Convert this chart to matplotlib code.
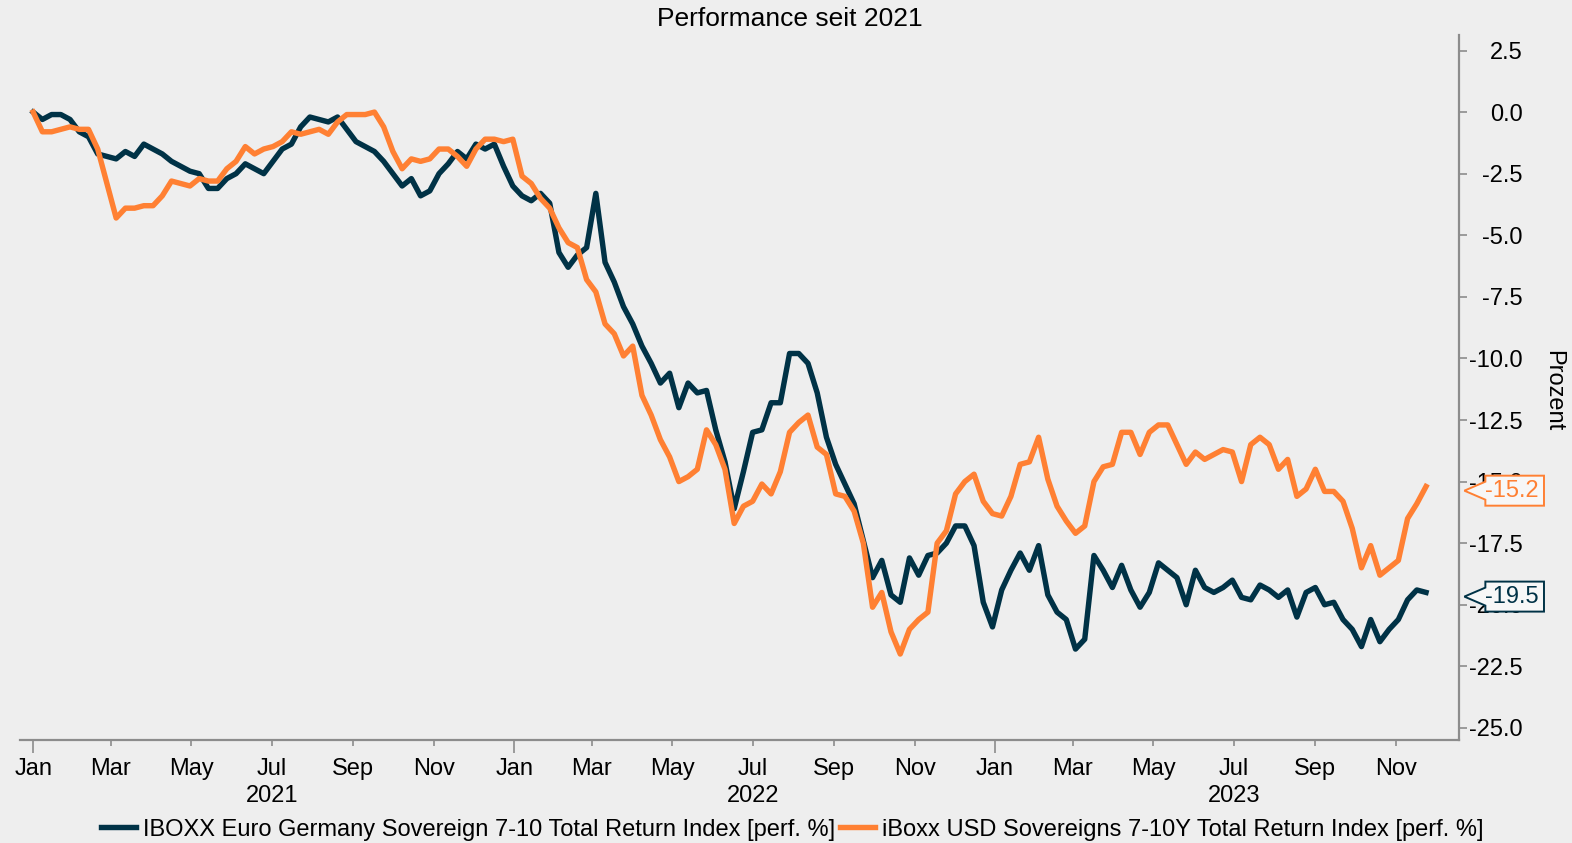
import numpy as np
import pandas as pd
import matplotlib
matplotlib.use("Agg")
import matplotlib.pyplot as plt
import matplotlib.dates as mdates
from matplotlib.path import Path
from matplotlib.ticker import FuncFormatter

plt.rcParams['font.family'] = ['Liberation Sans', 'DejaVu Sans']

# weekly values (perf. % since 01.01.2021)
dates = pd.date_range('2021-01-01', periods=152, freq='7D')

euro_de = [
    0.0, -0.3, -0.1, -0.1, -0.3, -0.8, -1.0, -1.7, -1.8, -1.9,
    -1.6, -1.8, -1.3, -1.5, -1.7, -2.0, -2.2, -2.4, -2.5, -3.1,
    -3.1, -2.7, -2.5, -2.1, -2.3, -2.5, -2.0, -1.5, -1.3, -0.6,
    -0.2, -0.3, -0.4, -0.2, -0.7, -1.2, -1.4, -1.6, -2.0, -2.5,
    -3.0, -2.7, -3.4, -3.2, -2.5, -2.1, -1.6, -1.9, -1.3, -1.5,
    -1.3, -2.2, -3.0, -3.4, -3.6, -3.3, -3.7, -5.7, -6.3, -5.8,
    -5.5, -3.3, -6.1, -6.9, -7.9, -8.6, -9.5, -10.2, -11.0, -10.6,
    -12.0, -11.0, -11.4, -11.3, -12.9, -14.2, -16.1, -14.6, -13.0, -12.9,
    -11.8, -11.8, -9.8, -9.8, -10.2, -11.4, -13.2, -14.3, -15.1, -15.9,
    -17.4, -18.9, -18.2, -19.6, -19.9, -18.1, -18.8, -18.0, -17.9, -17.5,
    -16.8, -16.8, -17.6, -19.9, -20.9, -19.4, -18.6, -17.9, -18.6, -17.6,
    -19.6, -20.3, -20.6, -21.8, -21.4, -18.0, -18.6, -19.3, -18.4, -19.4,
    -20.1, -19.5, -18.3, -18.6, -18.9, -20.0, -18.6, -19.3, -19.5, -19.3,
    -19.0, -19.7, -19.8, -19.2, -19.4, -19.7, -19.4, -20.5, -19.5, -19.3,
    -20.0, -19.9, -20.6, -21.0, -21.7, -20.6, -21.5, -21.0, -20.6, -19.8,
    -19.4, -19.5,
]

usd_sov = [
    0.0, -0.8, -0.8, -0.7, -0.6, -0.7, -0.7, -1.5, -2.9, -4.3,
    -3.9, -3.9, -3.8, -3.8, -3.4, -2.8, -2.9, -3.0, -2.7, -2.8,
    -2.8, -2.3, -2.0, -1.4, -1.7, -1.5, -1.4, -1.2, -0.8, -0.9,
    -0.8, -0.7, -0.9, -0.4, -0.1, -0.1, -0.1, 0.0, -0.6, -1.6,
    -2.3, -1.9, -2.0, -1.9, -1.5, -1.5, -1.8, -2.2, -1.5, -1.1,
    -1.1, -1.2, -1.1, -2.6, -2.9, -3.5, -3.9, -4.7, -5.3, -5.5,
    -6.8, -7.3, -8.6, -9.0, -9.9, -9.5, -11.5, -12.3, -13.3, -14.0,
    -15.0, -14.8, -14.5, -12.9, -13.5, -14.5, -16.7, -16.0, -15.8, -15.1,
    -15.5, -14.6, -13.0, -12.6, -12.3, -13.6, -13.9, -15.5, -15.6, -16.2,
    -17.5, -20.1, -19.5, -21.1, -22.0, -21.0, -20.6, -20.3, -17.5, -17.0,
    -15.5, -15.0, -14.7, -15.8, -16.3, -16.4, -15.6, -14.3, -14.2, -13.2,
    -14.9, -16.0, -16.6, -17.1, -16.8, -15.0, -14.4, -14.3, -13.0, -13.0,
    -13.9, -13.0, -12.7, -12.7, -13.5, -14.3, -13.8, -14.1, -13.9, -13.7,
    -13.8, -15.0, -13.5, -13.2, -13.5, -14.5, -14.1, -15.6, -15.3, -14.5,
    -15.4, -15.4, -15.8, -16.9, -18.5, -17.6, -18.8, -18.5, -18.2, -16.5,
    -15.9, -15.2,
]

series_names = [
    'IBOXX Euro Germany Sovereign 7-10 Total Return Index [perf. %]',
    'iBoxx USD Sovereigns 7-10Y Total Return Index [perf. %]',
]
series_colors = ['#003246', '#ff8033']
y_ticks = np.arange(-25.0, 2.6, 2.5)

bg = '#eeeeee'
grey = '#8c8c8c'
fs = 17

fig = plt.figure(figsize=(15.72, 8.43), dpi=100, facecolor=bg)
ax = fig.add_axes([0.0127, 0.1222, 0.9154, 0.8363], facecolor=bg)

for vals, name, col in zip([euro_de, usd_sov], series_names, series_colors):
    ax.plot(dates, vals, color=col, lw=3.9, label=name, solid_joinstyle='round')

ax.set_xlim(pd.Timestamp('2020-12-22'), pd.Timestamp('2023-12-19'))
ax.set_ylim(-25.49, 3.13)

for s in ['left', 'top']:
    ax.spines[s].set_visible(False)
for s in ['right', 'bottom']:
    ax.spines[s].set_color(grey)
    ax.spines[s].set_linewidth(1.6)

# y axis on the right
ax.yaxis.tick_right()
ax.set_yticks(y_ticks)
ax.yaxis.set_major_formatter(FuncFormatter(lambda v, p: f'{v:.1f}'))
ax.tick_params(axis='y', length=6, width=1.2, color=grey, labelsize=fs, pad=40)
for lab in ax.get_yticklabels():
    lab.set_horizontalalignment('right')

# x axis: Jan ticks long, other months short
ax.xaxis.set_major_locator(mdates.YearLocator())
ax.xaxis.set_major_formatter(mdates.DateFormatter('%b'))
ax.xaxis.set_minor_locator(mdates.MonthLocator(bymonth=[3, 5, 7, 9, 11]))


def minor_fmt(v, pos):
    d = mdates.num2date(v)
    if d.month == 7:
        return d.strftime('%b') + '\n' + str(d.year)
    return d.strftime('%b')


ax.xaxis.set_minor_formatter(FuncFormatter(minor_fmt))
ax.tick_params(axis='x', which='major', length=9, width=1.2, color=grey, labelsize=fs, pad=4)
ax.tick_params(axis='x', which='minor', length=4.5, width=1.2, color=grey, labelsize=fs, pad=8.5)
for lab in ax.get_xticklabels(which='minor'):
    lab.set_linespacing(1.3)

fig.text(0.5025, 0.978, 'Performance seit 2021', ha='center', va='center', fontsize=19)
fig.text(0.988, 0.537, 'Prozent', rotation=270, ha='center', va='center', fontsize=fs)


def callout(x0, y0, width, height, mutation_size):
    # box with a "<" pointer on its left side
    tip = 21
    y0 -= 4
    height += 8
    width += 5
    ym = y0 + height / 2
    verts = [(x0, y0), (x0 + width, y0), (x0 + width, y0 + height), (x0, y0 + height),
             (x0, ym + 9), (x0 - tip, ym), (x0, ym - 9), (x0, y0)]
    codes = [Path.MOVETO] + [Path.LINETO] * 6 + [Path.CLOSEPOLY]
    return Path(verts, codes)


for vals, col in zip([euro_de, usd_sov], series_colors):
    last = vals[-1]
    ax.annotate(f'{last:.1f}', xy=(1, last), xycoords=('axes fraction', 'data'),
                xytext=(19, -3), textcoords='offset points', ha='left', va='center',
                fontsize=fs, color=col, annotation_clip=False, zorder=5,
                bbox=dict(boxstyle=callout, fc='#f7f7f7', ec=col, lw=1.4, pad=0.18))

fig.legend(loc='center', bbox_to_anchor=(0.504, 0.016), ncol=2, frameon=False,
           fontsize=fs, handlelength=1.5, handletextpad=0.3, columnspacing=0.2)

fig.savefig('out.png', dpi=100, facecolor=bg)
